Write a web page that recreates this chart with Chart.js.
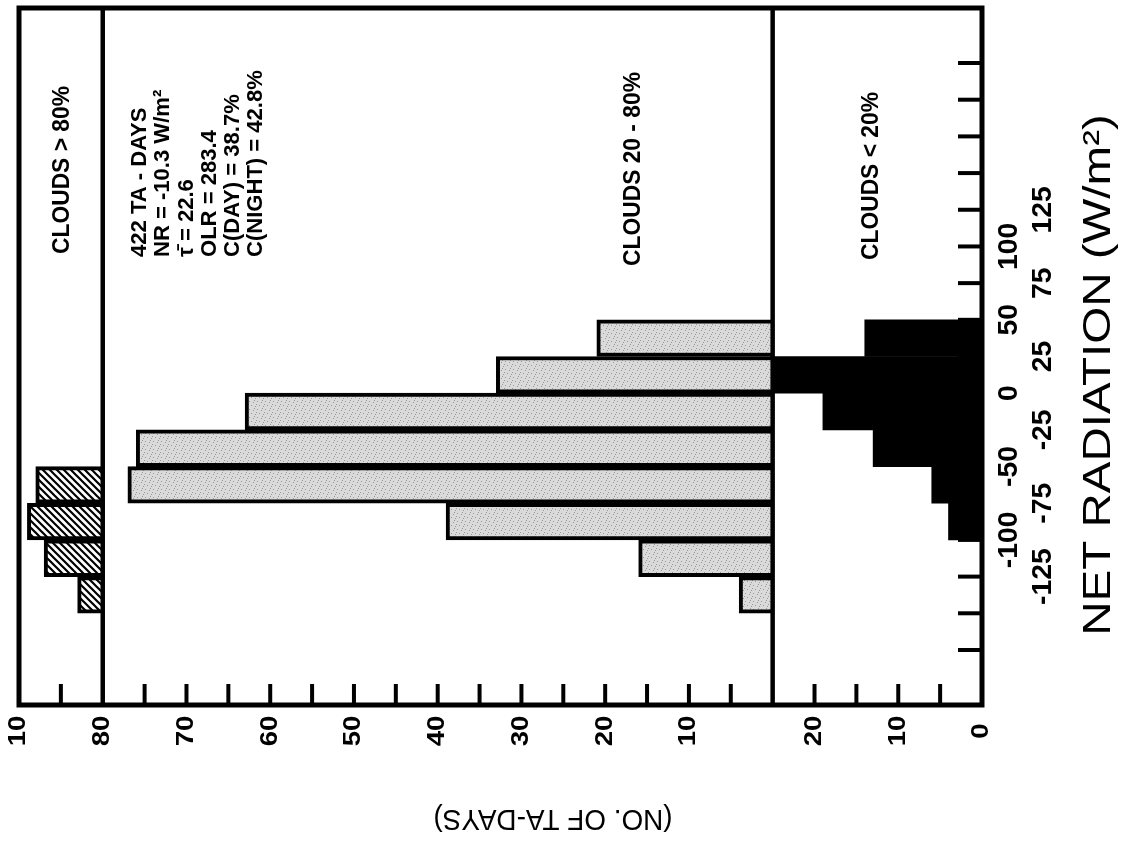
<!DOCTYPE html>
<html>
<head>
<meta charset="utf-8">
<title>Net radiation histogram by cloud class</title>
<script src="https://cdn.jsdelivr.net/npm/chart.js@4/dist/chart.umd.min.js"></script>
<style>
  html, body { margin: 0; padding: 0; background: #fff; }
  #wrap { position: relative; width: 1131px; height: 852px; }
</style>
</head>
<body>
<div id="wrap"><canvas id="netRadChart"></canvas></div>
<script>
// bin centres of net radiation (W/m2), 25 W/m2 wide bins
var netRadBins = [-137.5, -112.5, -87.5, -62.5, -37.5, -12.5, 12.5, 37.5];
// number of TA-days per bin for each cloud class
var daysOvercast = [3, 7, 9, 8, null, null, null, null];   // clouds > 80%
var daysBroken = [4, 16, 39, 77, 76, 63, 33, 21];          // clouds 20 - 80%
var daysClear = [null, null, 4, 6, 13, 19, 25, 14];        // clouds < 20%

var netRadLabels = [-125, -100, -75, -50, -25, 0, 25, 50, 75, 100, 125];
var overcastTickLabels = [10];
var brokenTickLabels = [10, 20, 30, 40, 50, 60, 70, 80];
var clearTickLabels = [0, 10, 20];

var statsLines = [
  '422 TA - DAYS',
  'NR = -10.3 W/m\u00B2',
  '\u03C4\u0304 = 22.6',
  'OLR = 283.4',
  'C(DAY) = 38.7%',
  'C(NIGHT) = 42.8%'
];

(function () {
  var FONT = '"Liberation Sans", Arial, Helvetica, sans-serif';

  function toPoints(values) {
    var pts = [];
    for (var i = 0; i < netRadBins.length; i++) {
      if (values[i] !== null) pts.push({ y: netRadBins[i], x: values[i] });
    }
    return pts;
  }

  function hatchPattern() {
    var c = document.createElement('canvas');
    c.width = 7; c.height = 7;
    var g = c.getContext('2d');
    g.fillStyle = '#fff';
    g.fillRect(0, 0, 7, 7);
    g.strokeStyle = '#000';
    g.lineWidth = 2.2;
    g.beginPath();
    g.moveTo(-1, -1); g.lineTo(8, 8);
    g.moveTo(-8, -1); g.lineTo(1, 8);
    g.moveTo(6, -1); g.lineTo(15, 8);
    g.stroke();
    return g.createPattern(c, 'repeat');
  }

  // light grey screen, a fixed sprinkle of darker dots like the printed tone
  function screenPattern() {
    var c = document.createElement('canvas');
    c.width = 8; c.height = 8;
    var g = c.getContext('2d');
    g.fillStyle = '#dadada';
    g.fillRect(0, 0, 8, 8);
    g.fillStyle = '#9a9a9a';
    [[1, 1], [5, 2], [3, 5], [7, 6], [0, 4], [6, 0]].forEach(function (p) {
      g.fillRect(p[0], p[1], 1, 1);
    });
    return g.createPattern(c, 'repeat');
  }

  function rotText(ctx, text, x, y, angle, font, align, stretch) {
    ctx.save();
    ctx.translate(x, y);
    ctx.rotate(angle);
    ctx.scale(stretch || 1, 1);
    ctx.font = font;
    ctx.textAlign = align || 'center';
    ctx.textBaseline = 'middle';
    ctx.fillText(text, 0, 0);
    ctx.restore();
  }

  function line(ctx, x1, y1, x2, y2) {
    ctx.beginPath();
    ctx.moveTo(x1, y1);
    ctx.lineTo(x2, y2);
    ctx.stroke();
  }

  var UP = -Math.PI / 2;

  var decor = {
    id: 'decor',
    afterDatasetsDraw: function (chart) {
      var ctx = chart.ctx;
      var a = chart.chartArea;
      var y = chart.scales.y;
      var panels = [
        { s: chart.scales.xHigh, labels: overcastTickLabels },
        { s: chart.scales.xMid, labels: brokenTickLabels },
        { s: chart.scales.xLow, labels: clearTickLabels }
      ];
      ctx.save();
      ctx.strokeStyle = '#000';
      ctx.fillStyle = '#000';
      ctx.lineCap = 'butt';

      // net radiation ticks, pointing in from the right edge
      ctx.lineWidth = 4;
      y.ticks.forEach(function (t) {
        if (t.value <= y.min || t.value >= y.max) return;
        var py = y.getPixelForValue(t.value);
        line(ctx, a.right - 24, py, a.right, py);
      });

      // day-count ticks, pointing up from the bottom edge
      panels.forEach(function (p) {
        p.s.ticks.forEach(function (t) {
          if (t.value <= p.s.min || t.value >= p.s.max) return;
          var px = p.s.getPixelForValue(t.value);
          line(ctx, px, a.bottom - 21, px, a.bottom);
        });
      });

      // panel dividers
      var mid = chart.scales.xMid;
      ctx.lineWidth = 4.5;
      line(ctx, mid.getPixelForValue(80), a.top, mid.getPixelForValue(80), a.bottom);
      line(ctx, mid.getPixelForValue(0), a.top, mid.getPixelForValue(0), a.bottom);

      // frame
      ctx.lineWidth = 5;
      ctx.strokeRect(a.left, a.top, a.right - a.left, a.bottom - a.top);

      // day-count tick labels
      panels.forEach(function (p) {
        p.labels.forEach(function (v) {
          rotText(ctx, String(v), p.s.getPixelForValue(v), a.bottom + 26, UP, 'bold 23px ' + FONT, 'center', 1.2);
        });
      });

      // net radiation labels, staggered in two rows
      netRadLabels.forEach(function (v, i) {
        var px = a.right + (i % 2 === 0 ? 62 : 28);
        rotText(ctx, String(v), px, y.getPixelForValue(v), UP, 'bold 27px ' + FONT, 'center', 1.05);
      });

      // panel titles
      rotText(ctx, 'CLOUDS > 80%', 62, 170, UP, 'bold 24px ' + FONT, 'center', 0.95);
      rotText(ctx, 'CLOUDS 20 - 80%', 633, 169, UP, 'bold 24px ' + FONT, 'center', 0.95);
      rotText(ctx, 'CLOUDS < 20%', 871, 176, UP, 'bold 24px ' + FONT, 'center', 0.95);

      // summary block
      statsLines.forEach(function (s, i) {
        rotText(ctx, s, 140 + i * 23.2, 257, UP, 'bold 22.5px ' + FONT, 'left', 0.98);
      });

      // axis titles
      rotText(ctx, 'NET RADIATION (W/m\u00B2)', 1100, 375, UP, '38px ' + FONT, 'center', 1.25);
      rotText(ctx, '(NO. OF TA-DAYS)', 553, 818, Math.PI, '30px ' + FONT, 'center', 0.93);

      ctx.restore();
    }
  };

  function countAxis(max) {
    return {
      type: 'linear',
      position: 'bottom',
      stack: 'days',
      stackWeight: max,
      min: 0,
      max: max,
      reverse: true,
      ticks: { stepSize: 5, display: false },
      grid: { display: false, drawTicks: false },
      border: { display: false }
    };
  }

  var scales = {
    y: {
      type: 'linear',
      position: 'right',
      min: -200,
      max: 250,
      ticks: { stepSize: 25, display: false },
      grid: { display: false, drawTicks: false },
      border: { display: false }
    },
    xHigh: countAxis(10),
    xMid: countAxis(80),
    xLow: countAxis(25)
  };

  new Chart(document.getElementById('netRadChart'), {
    type: 'bar',
    data: {
      datasets: [{
        label: 'Clouds > 80%',
        data: toPoints(daysOvercast),
        xAxisID: 'xHigh',
        yAxisID: 'y',
        backgroundColor: hatchPattern(),
        borderColor: '#000',
        borderWidth: 4
      }, {
        label: 'Clouds 20 - 80%',
        data: toPoints(daysBroken),
        xAxisID: 'xMid',
        yAxisID: 'y',
        backgroundColor: screenPattern(),
        borderColor: '#000',
        borderWidth: 4
      }, {
        label: 'Clouds < 20%',
        data: toPoints(daysClear),
        xAxisID: 'xLow',
        yAxisID: 'y',
        backgroundColor: '#000',
        borderWidth: 0
      }]
    },
    options: {
      indexAxis: 'y',
      responsive: true,
      maintainAspectRatio: false,
      animation: false,
      datasets: { bar: { grouped: false, categoryPercentage: 1, barPercentage: 1 } },
      layout: { padding: { left: 19, top: 8, right: 149, bottom: 147 } },
      plugins: { legend: { display: false }, tooltip: { enabled: false } },
      scales: scales
    },
    plugins: [decor]
  });
})();
</script>
</body>
</html>
